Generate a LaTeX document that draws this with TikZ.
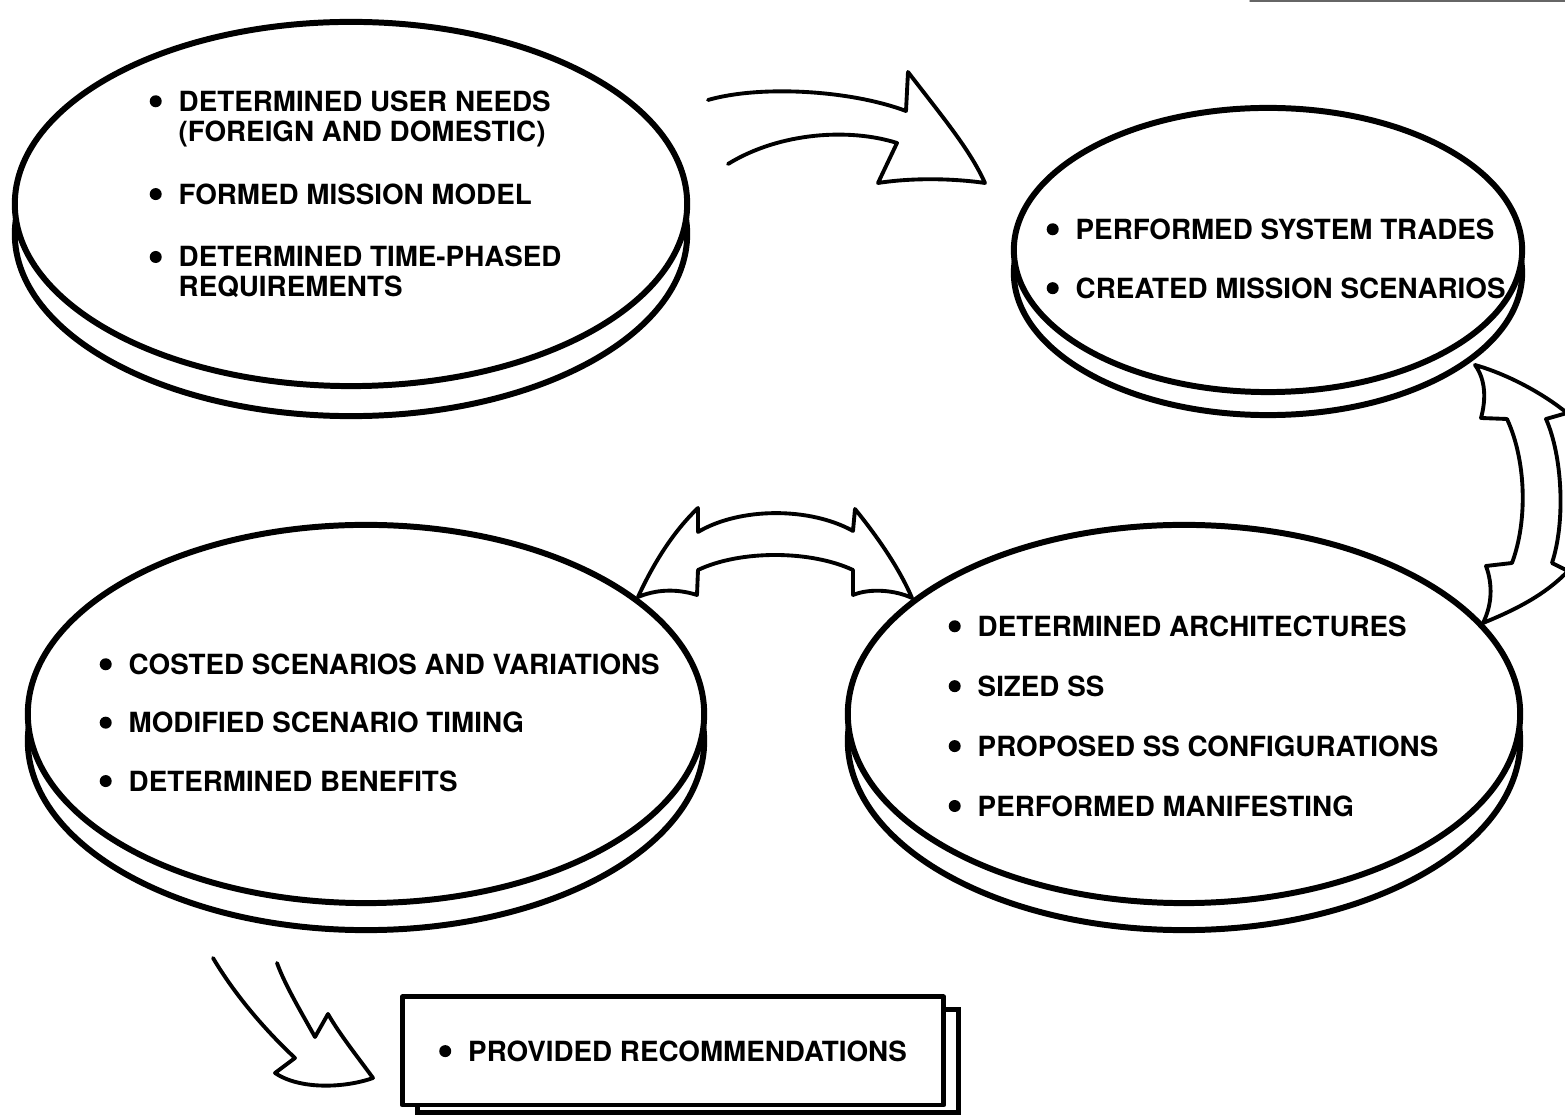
\documentclass[tikz,border=0pt]{standalone}
\usepackage{fontspec}
\setmainfont{TeX Gyre Heros}
\usetikzlibrary{shapes.geometric,backgrounds}

\newcommand{\blt}{\makebox[0.29cm][l]{\tikz[baseline=-0.1cm]\fill (0.06cm,0cm) circle[radius=0.06cm];}}
\newcommand{\hng}{\hspace*{0.29cm}}

\begin{document}
\begin{tikzpicture}[%
	x=0.01cm,y=-0.01cm,line join=round,line cap=round,
	disk/.style={ellipse,draw,line width=1.7pt,fill=white,inner sep=0pt},
	card/.style={rectangle,draw,line width=1.4pt,fill=white,inner sep=0pt},
	txt/.style={align=left,inner sep=0pt,font=\fontsize{7.9}{8.5}\selectfont\bfseries},
	fatarrow/.style={draw,line width=1.1pt}]

	\useasboundingbox (0,0) rectangle (1565,1116);
	\clip (0,0) rectangle (1565,1116);

	\node[disk,minimum width=6.72cm,minimum height=3.64cm]	(REQ) at (351,204)	{};
	\node[disk,minimum width=5.08cm,minimum height=2.84cm]	(TRD) at (1268,250)	{};
	\node[disk,minimum width=6.76cm,minimum height=3.78cm]	(CST) at (366,714)	{};
	\node[disk,minimum width=6.72cm,minimum height=3.78cm]	(ARC) at (1184,714)	{};

	\begin{scope}[on background layer]
		\node[disk,minimum width=6.72cm,minimum height=3.64cm]	(REQs) at ([yshift=-0.30cm]REQ.center)	{};
		\node[disk,minimum width=5.08cm,minimum height=2.84cm]	(TRDs) at ([yshift=-0.23cm]TRD.center)	{};
		\node[disk,minimum width=6.76cm,minimum height=3.78cm]	(CSTs) at ([yshift=-0.27cm]CST.center)	{};
		\node[disk,minimum width=6.72cm,minimum height=3.78cm]	(ARCs) at ([yshift=-0.27cm]ARC.center)	{};
		\node[card,minimum width=5.41cm,minimum height=1.03cm]	(RECs) at (688,1061)	{};
	\end{scope}

	\node[card,minimum width=5.41cm,minimum height=1.08cm,font=\fontsize{7.9}{8.5}\selectfont\bfseries]
		(REC) at (673,1051) {\blt PROVIDED RECOMMENDATIONS};

	\node[txt,anchor=north west] (REQtxt) at (149,90) {%
		\blt DETERMINED USER NEEDS\\
		\hng (FOREIGN AND DOMESTIC)\\[0.33cm]
		\blt FORMED MISSION MODEL\\[0.33cm]
		\blt DETERMINED TIME-PHASED\\
		\hng REQUIREMENTS
	};
	\node[txt,anchor=north west] (TRDtxt) at (1046,218) {%
		\blt PERFORMED SYSTEM TRADES\\[0.29cm]
		\blt CREATED MISSION SCENARIOS
	};
	\node[txt,anchor=north west] (CSTtxt) at (99,653) {%
		\blt COSTED SCENARIOS AND VARIATIONS\\[0.285cm]
		\blt MODIFIED SCENARIO TIMING\\[0.285cm]
		\blt DETERMINED BENEFITS
	};
	\node[txt,anchor=north west] (ARCtxt) at (948,615) {%
		\blt DETERMINED ARCHITECTURES\\[0.30cm]
		\blt SIZED SS\\[0.30cm]
		\blt PROPOSED SS CONFIGURATIONS\\[0.30cm]
		\blt PERFORMED MANIFESTING
	};

	% REQ -> TRD
	\draw[fatarrow] (708,100) .. controls (760,85) and (850,90) .. (906,111) -- (908,72)
		.. controls (945,120) and (970,150) .. (985,183) .. controls (950,178) and (910,178) .. (878,183)
		-- (897,143) .. controls (850,128) and (780,132) .. (728,164);
	% TRD <-> ARC
	\draw[fatarrow] (1475,365) .. controls (1510,375) and (1545,395) .. (1567,413) -- (1546,419)
		.. controls (1562,455) and (1566,520) .. (1552,563) -- (1568,571)
		.. controls (1545,595) and (1515,610) .. (1483,623) .. controls (1492,605) and (1493,585) .. (1486,566)
		-- (1512,563) .. controls (1528,520) and (1526,460) .. (1507,419) -- (1481,418)
		.. controls (1486,400) and (1486,380) .. cycle;
	% CST <-> ARC
	\draw[fatarrow] (638,597) .. controls (655,560) and (675,530) .. (698,508) -- (698,532)
		.. controls (740,507) and (810,507) .. (853,531) -- (855,509)
		.. controls (880,540) and (900,570) .. (912,598) .. controls (895,590) and (870,588) .. (853,595)
		-- (853,570) .. controls (810,550) and (740,550) .. (698,570) -- (697,595)
		.. controls (675,588) and (655,590) .. cycle;
	% CST -> REC
	\draw[fatarrow] (213,958) .. controls (235,995) and (265,1030) .. (295,1058) -- (275,1073)
		.. controls (300,1090) and (345,1088) .. (373,1078) .. controls (360,1060) and (340,1035) .. (328,1014)
		-- (315,1037) .. controls (300,1010) and (285,985) .. (277,963);

	\draw[black!60,line width=0.4pt] (1250,1) -- (1565,1);

\end{tikzpicture}
\end{document}
